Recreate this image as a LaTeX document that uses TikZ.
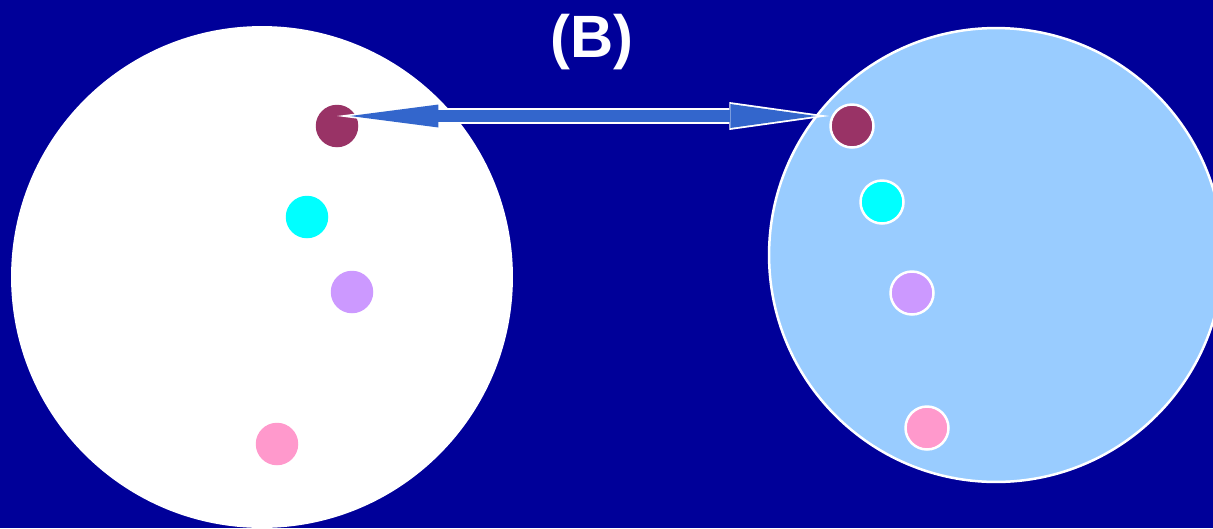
\documentclass[tikz,border=0pt]{standalone}
\usepackage{fontspec}
\setmainfont{Liberation Sans}
\usetikzlibrary{arrows.meta}
\definecolor{bgBlue}{HTML}{000099}
\definecolor{skyBlue}{HTML}{99CCFF}
\definecolor{arrowBlue}{HTML}{3366CC}
\definecolor{dotMaroon}{HTML}{993366}
\definecolor{dotCyan}{HTML}{00FFFF}
\definecolor{dotLilac}{HTML}{CC99FF}
\definecolor{dotPink}{HTML}{FF99CC}
\begin{document}
\begin{tikzpicture}[x=0.02cm,y=-0.02cm,
    setCircle/.style={circle,inner sep=0pt,minimum size=#1},
    dotNode/.style={circle,inner sep=0pt,minimum size=0.85cm,fill=#1},
    dotRing/.style={circle,inner sep=0pt,minimum size=0.86cm,fill=#1,draw=white,line width=0.05cm},
    arrowOuter/.style={draw=white,line width=0.33cm,
        {Triangle[length=2.06cm,width=0.54cm,line width=0pt]}-{Triangle[length=2.0cm,width=0.56cm,line width=0pt]}},
    arrowInner/.style={draw=arrowBlue,line width=0.25cm,shorten <=0.26cm,shorten >=0.26cm,
        {Triangle[length=1.77cm,width=0.46cm,line width=0pt]}-{Triangle[length=1.72cm,width=0.48cm,line width=0pt]}},
    titleText/.style={text=white,inner sep=0pt,font=\bfseries\fontsize{34}{40}\selectfont},
]
\useasboundingbox (0,0) rectangle (1213,528);
\clip (0,0) rectangle (1213,528);
\fill[bgBlue] (0,0) rectangle (1213,528);

% the two sets
\node[setCircle=10.04cm,fill=white] (leftSet) at (262,277) {};
\node[setCircle=9.08cm,fill=skyBlue,draw=white,line width=0.05cm] (rightSet) at (996,255) {};

% elements
\node[dotNode=dotMaroon] (lMaroon) at (337,126) {};
\node[dotNode=dotCyan] (lCyan) at (307,217) {};
\node[dotNode=dotLilac] (lLilac) at (352,292) {};
\node[dotNode=dotPink] (lPink) at (277,444) {};
\node[dotRing=dotMaroon] (rMaroon) at (852,126) {};
\node[dotRing=dotCyan] (rCyan) at (882,202) {};
\node[dotRing=dotLilac] (rLilac) at (912,293) {};
\node[dotRing=dotPink] (rPink) at (927,428) {};

% correspondence
\draw[arrowOuter] ([yshift=0.2cm]lMaroon.center) -- ([yshift=0.2cm]rMaroon.west);
\draw[arrowInner] ([yshift=0.2cm]lMaroon.center) -- ([yshift=0.2cm]rMaroon.west);

\node[titleText] (title) at (592,42) {(B)};
\end{tikzpicture}
\end{document}
